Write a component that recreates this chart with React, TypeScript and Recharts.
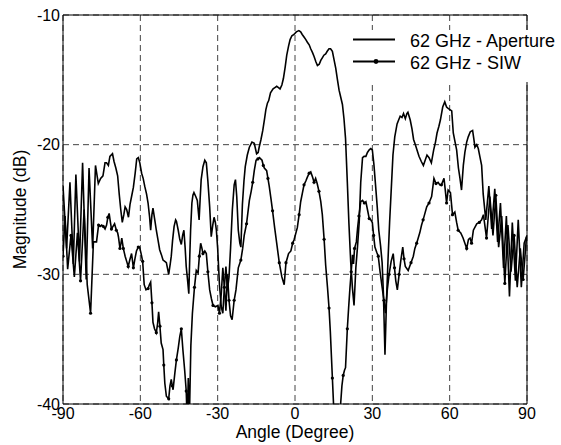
import { LineChart, Line, XAxis, YAxis, CartesianGrid, ReferenceArea, Legend } from 'recharts'

// [angle (deg), magnitude (dB)]
const apertureCurve: [number, number][] = [
  [-90, -23.2], [-88.6, -28.0], [-87.3, -22.9], [-86.0, -29.2], [-85.0, -22.3], [-83.6, -29.0], [-82.4, -21.4],
  [-81.0, -30.4], [-79.9, -21.8], [-78.5, -28.0], [-77.4, -21.6], [-76.3, -23.0], [-75.4, -22.6], [-74.5, -22.4],
  [-73.7, -21.4], [-73.1, -21.4], [-72.4, -21.6],
  [-71.8, -20.9], [-70.8, -20.7], [-70.2, -21.3], [-69.5, -21.8], [-68.8, -22.4], [-68.2, -23.8], [-67.6, -25.0],
  [-67.0, -26.0], [-66.4, -25.4], [-65.9, -24.8], [-65.3, -25.0], [-64.6, -25.6], [-64.0, -24.6], [-63.3, -23.9],
  [-62.7, -23.3], [-62.0, -22.2], [-61.4, -21.1], [-60.8, -21.0], [-60.2, -21.4], [-59.5, -22.2], [-58.9, -22.6],
  [-58.3, -23.2], [-57.6, -23.8], [-57.0, -24.5], [-56.4, -25.6], [-56.0, -26.6], [-55.5, -25.4], [-55.1, -24.9],
  [-54.4, -25.8], [-53.8, -26.6], [-53.1, -27.4], [-52.5, -28.1], [-51.8, -28.5], [-51.2, -28.9], [-50.5, -29.0],
  [-49.9, -29.1], [-49.0, -30.0], [-48.4, -29.2], [-48.0, -28.6], [-47.5, -27.4], [-46.9, -26.3], [-46.3, -25.8],
  [-46.0, -25.9], [-45.3, -26.6], [-44.7, -27.3], [-44.1, -27.7], [-43.6, -27.0], [-43.1, -26.6], [-42.6, -28.0],
  [-42.2, -29.4], [-41.6, -30.6], [-41.2, -31.5], [-40.8, -28.5], [-40.5, -26.6], [-40.0, -24.5], [-39.6, -23.9],
  [-39.2, -23.7], [-38.5, -24.0], [-37.9, -24.3], [-37.2, -25.8], [-36.8, -24.2], [-36.4, -22.7], [-35.7, -21.7],
  [-35.0, -21.2], [-34.4, -21.4], [-33.8, -22.8], [-33.1, -24.8], [-32.5, -27.1], [-31.9, -26.2], [-31.4, -25.6],
  [-30.9, -26.0], [-30.5, -26.6], [-30.0, -28.0], [-29.3, -30.8], [-28.6, -32.5], [-28.0, -33.0], [-27.4, -31.0],
  [-26.8, -29.4], [-26.2, -31.2], [-25.6, -30.2], [-25.0, -28.0], [-24.3, -25.0], [-23.6, -23.1], [-23.1, -22.7],
  [-22.6, -24.0], [-22.0, -26.6], [-21.4, -27.6], [-21.0, -27.9], [-20.4, -24.6], [-19.8, -22.8], [-19.3, -21.7],
  [-18.5, -20.8], [-17.7, -20.2], [-16.7, -19.8], [-15.8, -19.9], [-14.9, -20.7], [-14.3, -20.6], [-13.9, -20.2],
  [-13.2, -19.6], [-12.5, -18.9], [-11.8, -18.0], [-11.3, -17.3], [-10.7, -16.8], [-10.2, -16.6], [-9.5, -16.0],
  [-8.5, -15.7], [-7.8, -15.6], [-7.1, -15.5], [-6.4, -15.6], [-5.8, -15.7], [-5.1, -15.4], [-4.5, -14.9],
  [-3.8, -14.0], [-3.2, -13.1], [-2.5, -12.4], [-1.9, -11.9], [-1.2, -11.6], [-0.4, -11.5], [0.5, -11.3],
  [1.5, -11.2], [2.2, -11.3], [2.8, -11.5], [3.5, -11.7], [4.2, -11.9], [4.8, -12.1], [5.5, -12.3], [6.1, -12.6],
  [6.8, -12.9], [7.4, -13.2], [8.1, -13.6], [8.7, -13.9], [9.4, -13.8], [10.0, -13.5], [10.6, -13.3], [11.2, -13.1],
  [11.9, -13.0], [12.5, -12.8], [13.2, -12.6], [13.8, -12.6], [14.5, -12.8], [15.1, -13.4], [15.8, -14.1],
  [16.4, -14.9], [17.1, -15.8], [17.7, -16.3], [18.4, -16.9], [19.0, -18.0], [19.6, -19.5], [20.3, -22.9],
  [20.9, -26.0], [21.6, -29.0], [22.3, -31.1], [22.9, -32.4], [23.6, -29.5], [24.2, -28.0], [24.9, -26.0],
  [25.5, -22.9], [26.2, -21.0], [26.8, -20.9], [27.5, -20.9], [28.1, -20.6], [28.8, -20.4], [29.4, -20.3],
  [30.0, -20.4], [30.6, -21.5], [31.2, -23.0], [31.9, -24.8], [32.5, -26.6], [33.2, -27.8], [33.8, -29.1],
  [34.3, -31.5], [34.9, -36.2], [35.5, -32.0], [36.1, -28.8], [36.7, -26.0], [37.4, -23.2], [38.0, -20.8],
  [38.7, -19.4], [39.6, -18.4], [40.2, -18.1], [40.8, -17.8], [41.5, -17.9], [42.1, -17.6], [42.8, -18.0],
  [43.4, -17.6], [43.8, -17.5], [44.7, -18.1], [45.4, -18.8], [46.0, -19.6], [46.7, -20.0], [47.3, -20.4],
  [48.1, -20.9], [49.0, -21.3], [49.8, -21.6], [50.5, -21.2], [51.2, -20.8], [52.0, -21.0], [52.9, -21.4],
  [53.8, -20.4], [54.5, -19.8], [55.1, -19.1], [55.8, -18.6], [56.4, -18.1], [57.3, -17.1], [58.1, -16.7],
  [58.8, -17.1], [59.4, -17.2], [60.1, -17.3], [60.8, -17.4], [61.4, -19.1], [62.1, -19.8], [62.7, -20.4],
  [63.4, -21.8], [64.0, -22.6], [64.6, -23.5], [65.3, -21.6], [65.9, -20.6], [66.6, -19.8], [67.2, -19.4],
  [68.0, -19.0], [68.9, -18.9], [69.4, -19.6], [69.8, -20.2], [70.5, -20.0], [71.1, -20.3], [71.7, -20.9],
  [72.4, -21.6], [73.0, -23.8], [74.0, -25.8], [75.2, -23.2], [76.3, -26.5], [77.5, -23.4], [78.6, -27.5],
  [79.7, -24.5], [80.9, -29.5], [82.0, -25.5], [83.2, -31.7], [84.3, -26.0], [85.5, -30.5], [86.6, -25.8],
  [87.8, -31.0], [88.9, -27.6], [90, -27.0],
]

const siwCurve: [number, number][] = [
  [-90, -28.6], [-89.2, -25.5], [-88.2, -29.6], [-86.9, -27.0], [-85.6, -30.2], [-84.4, -26.8], [-83.2, -30.5],
  [-81.8, -25.0], [-80.6, -30.8], [-79.3, -33.0], [-78.2, -27.5], [-77.0, -27.5], [-76.2, -26.2],
  [-75.6, -26.3], [-75.0, -26.2], [-74.4, -26.3], [-73.7, -26.5], [-73.1, -26.2], [-72.6, -25.6], [-72.1, -25.3],
  [-71.6, -26.0], [-71.2, -26.5], [-70.6, -26.3], [-70.0, -26.1], [-69.3, -26.6], [-68.8, -26.8], [-68.5, -27.1],
  [-67.9, -28.0], [-67.5, -27.6], [-67.2, -27.2], [-66.6, -28.0], [-65.9, -28.6], [-65.3, -29.0], [-64.7, -29.4],
  [-64.1, -28.9], [-63.4, -28.4], [-62.7, -29.5], [-62.1, -28.8], [-61.5, -28.2], [-60.8, -27.9], [-60.3, -27.9],
  [-59.7, -28.4], [-59.1, -29.0], [-58.5, -30.8], [-57.8, -31.2], [-57.0, -31.1], [-56.5, -30.8], [-56.0, -30.6],
  [-55.5, -32.2], [-55.1, -33.7], [-54.5, -34.2], [-53.8, -34.5], [-53.3, -33.8], [-52.9, -32.9], [-52.4, -34.0],
  [-51.9, -35.3], [-51.2, -35.8], [-50.9, -37.0], [-50.5, -38.4], [-49.9, -39.4], [-49.0, -39.6], [-48.5, -38.6],
  [-48.0, -38.1], [-47.6, -38.6], [-47.3, -38.9], [-46.6, -37.6], [-46.0, -36.6], [-45.3, -35.7], [-44.7, -34.8],
  [-44.1, -34.2], [-43.5, -35.8], [-42.8, -37.4], [-42.2, -39.0], [-41.8, -41.5], [-41.4, -38.0], [-41.0, -41.5],
  [-40.4, -35.5], [-39.8, -33.0], [-39.0, -31.0], [-38.3, -29.7], [-37.6, -29.9], [-37.1, -28.6], [-36.6, -27.6],
  [-36.1, -28.0], [-35.7, -28.4], [-35.0, -28.2], [-34.4, -28.4], [-33.8, -29.8], [-33.1, -31.2], [-32.4, -31.9],
  [-31.8, -32.4], [-30.9, -32.5], [-29.9, -32.4], [-29.3, -33.0], [-28.6, -31.5], [-28.0, -29.5], [-27.4, -31.0],
  [-26.8, -32.8], [-26.2, -30.0], [-25.6, -32.0], [-25.0, -33.2], [-24.4, -33.5], [-23.6, -32.0], [-22.9, -31.2],
  [-22.0, -29.5], [-21.0, -28.9], [-20.3, -28.0], [-19.7, -27.0], [-18.8, -26.1], [-17.7, -24.3], [-17.0, -23.6],
  [-16.4, -22.9], [-15.8, -22.0], [-15.1, -21.2], [-14.4, -21.1], [-13.8, -21.0], [-12.8, -21.2], [-12.3, -21.6],
  [-11.9, -21.8], [-11.0, -22.0], [-10.5, -22.6], [-10.0, -23.2], [-9.3, -24.2], [-8.7, -25.1], [-7.9, -26.4],
  [-7.1, -27.6], [-6.1, -29.1], [-5.1, -30.2], [-4.2, -30.8], [-3.5, -29.1], [-2.5, -28.4], [-1.6, -28.2],
  [-0.9, -27.6], [-0.3, -27.3], [0.9, -26.4], [1.6, -25.4], [2.2, -24.4], [2.9, -23.7], [3.5, -23.1], [4.2, -22.8],
  [4.8, -22.5], [5.5, -22.2], [6.1, -22.1], [6.8, -22.5], [7.4, -22.9], [8.0, -22.6], [8.6, -23.0], [9.3, -23.6],
  [10.0, -24.4], [10.6, -25.4], [11.3, -27.3], [11.9, -29.3], [12.6, -31.0], [13.2, -32.6], [13.7, -34.4],
  [14.1, -36.2], [14.5, -38.0], [14.9, -39.8], [15.4, -42.0], [17.3, -42.0], [17.7, -40.0], [18.2, -38.6],
  [18.7, -37.8], [19.2, -37.4], [19.6, -37.2], [20.3, -34.2], [20.8, -32.6], [21.3, -31.1], [21.8, -29.8],
  [22.3, -28.5], [22.7, -29.2], [23.1, -28.0], [23.8, -27.5], [24.3, -26.4], [24.8, -25.5], [25.5, -24.4],
  [26.2, -24.3], [26.9, -24.5], [27.5, -24.4], [28.1, -25.0], [28.8, -25.7], [29.4, -25.8], [30.0, -26.0],
  [30.5, -27.0], [31.0, -27.9], [31.7, -28.3], [32.3, -28.6], [33.0, -29.8], [33.6, -30.7], [34.5, -32.0],
  [35.1, -33.0], [35.8, -31.2], [36.5, -30.0], [37.3, -29.0], [38.1, -28.4], [38.6, -29.5], [39.1, -30.5],
  [39.7, -31.2], [40.4, -30.0], [41.0, -29.0], [41.8, -27.9], [42.3, -28.8], [42.8, -29.4], [43.9, -29.7],
  [45.0, -29.1], [45.9, -28.6], [46.5, -28.0], [47.2, -27.6], [48.4, -26.8], [49.1, -26.2], [49.7, -25.8],
  [50.4, -25.3], [51.1, -24.8], [52.0, -24.5], [53.0, -24.0], [53.9, -22.6], [54.7, -23.0], [55.5, -22.9],
  [56.2, -23.1], [56.8, -23.1], [57.8, -22.6], [58.3, -23.5], [58.8, -24.5], [59.4, -23.5], [60.3, -23.7],
  [61.1, -25.4], [62.0, -25.2], [62.7, -26.0], [63.3, -26.6], [64.3, -26.8], [65.2, -27.2], [66.6, -28.0],
  [67.3, -27.3], [67.9, -27.2], [68.5, -27.6], [69.2, -26.6], [70.5, -26.1], [71.5, -26.0], [72.4, -25.8],
  [73.1, -25.4], [74.3, -27.2], [75.6, -24.0], [76.8, -27.0], [77.9, -23.9], [79.0, -27.9], [80.2, -25.5],
  [81.4, -30.7], [82.6, -26.2], [83.8, -29.8], [85.0, -27.0], [86.2, -31.0], [87.4, -28.0], [88.5, -30.4],
  [89.8, -27.1],
]

const xTicks = [-90, -60, -30, 0, 30, 60, 90]
const yTicks = [-40, -30, -20, -10]

const FONT = '"Liberation Sans", Arial, Helvetica, sans-serif'
const TICK = { fill: '#000', fontSize: 16, fontFamily: FONT }

const aperture = apertureCurve.map(([angle, db]) => ({ angle, db }))
const siw = siwCurve.map(([angle, db]) => ({ angle, db }))

const siwDot = (p: any) => {
  if (p.index % 3 !== 0) return <g key={`d${p.index}`} />
  return <circle key={`d${p.index}`} cx={p.cx} cy={p.cy} r={1.6} fill="#000" stroke="none" />
}

const renderLegend = (props: any) => {
  const items = props.payload || []
  return (
    <svg width={216} height={52} style={{ display: 'block', background: '#fff' }}>
      {items.map((it: any, i: number) => {
        const y = 9.5 + i * 22
        return (
          <g key={it.value}>
            <line x1={8} x2={50} y1={y} y2={y} stroke="#000" strokeWidth={2} />
            {i === 1 && <circle cx={31} cy={y} r={2.4} fill="#000" />}
            <text x={65} y={y + 7} fontSize={18} fontFamily={FONT} fill="#000">{it.value}</text>
          </g>
        )
      })}
    </svg>
  )
}

export default function App() {
  return (
    <div style={{ width: 561, height: 445, background: '#fff' }}>
      <style>{'body{margin:0}'}</style>
      <LineChart width={561} height={445} margin={{ top: 15, right: 34, bottom: 0, left: 0 }}>
        <CartesianGrid stroke="#444" strokeDasharray="6 4" strokeWidth={1} />
        <XAxis type="number" dataKey="angle" domain={[-90, 90]} ticks={xTicks} allowDataOverflow
          height={41} tick={TICK} tickSize={0} tickMargin={4} axisLine={false} tickLine={false}
          label={{
            content: ({ viewBox }: any) => (
              <text x={viewBox.x + viewBox.width / 2} y={viewBox.y + 34} textAnchor="middle"
                fontSize={17.5} fontFamily={FONT} fill="#000">Angle (Degree)</text>
            ),
          }} />
        <YAxis type="number" domain={[-40, -10]} ticks={yTicks} allowDataOverflow
          width={63} tick={TICK} tickSize={0} tickMargin={3} axisLine={false} tickLine={false}
          label={{
            content: ({ viewBox }: any) => {
              const cx = viewBox.x + 26
              const cy = viewBox.y + viewBox.height / 2
              return (
                <text x={cx} y={cy} transform={`rotate(-90, ${cx}, ${cy})`} textAnchor="middle"
                  fontSize={17.5} fontFamily={FONT} fill="#000">Magnitude (dB)</text>
              )
            },
          }} />
        <ReferenceArea x1={-90} x2={90} y1={-40} y2={-10} fill="none" stroke="#000" strokeWidth={1} ifOverflow="visible" />
        <Line data={aperture} dataKey="db" name="62 GHz - Aperture" type="linear" stroke="#000" strokeWidth={1.6}
          dot={false} activeDot={false} isAnimationActive={false} />
        <Line data={siw} dataKey="db" name="62 GHz - SIW" type="linear" stroke="#000" strokeWidth={1.6}
          dot={siwDot} activeDot={false} isAnimationActive={false} />
        <Legend layout="vertical" align="center" verticalAlign="middle" content={renderLegend}
          wrapperStyle={{ left: 345, top: 30, width: 216, height: 52 }} />
      </LineChart>
    </div>
  )
}
